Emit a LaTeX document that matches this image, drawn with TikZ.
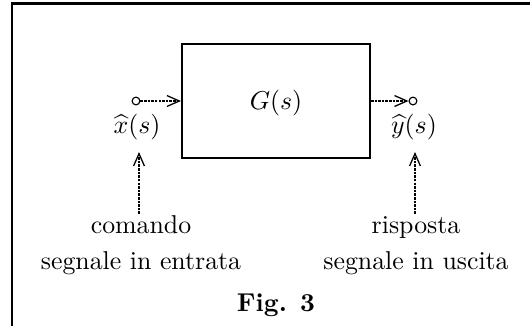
\documentclass[tikz,border=0pt]{standalone}
\usetikzlibrary{arrows.meta}
\begin{document}
\begin{tikzpicture}[x=0.3874pt,y=-0.3874pt,
  frameline/.style={line width=0.8pt},
  blockbox/.style={draw,line width=0.8pt,minimum width=188*0.3874pt,minimum height=114*0.3874pt,inner sep=0pt},
  port/.style={draw,circle,line width=0.45pt,inner sep=0pt,minimum size=3pt},
  sig/.style={dash pattern=on 1pt off 0.4pt,line width=0.5pt,-{Straight Barb[length=4.8pt,width=4.2pt,line width=0.5pt]}},
  lbl/.style={anchor=base,inner sep=0pt}]
\useasboundingbox (0,0) rectangle (530,325);
% frame
\draw[frameline] (12,326) -- (12,3.5) -- (531,3.5);
% block
\node[blockbox] (G) at (276,101) {};
\node[lbl] (Gl) at (276,109) {$G(s)$};
% ports
\node[port] (in) at (136,101) {};
\node[port] (out) at (413,101) {};
\draw[sig] (in) -- (G.west);
\draw[sig] (G.east) -- (out);
% port labels
\node[lbl] (xl) at (137,133) {$\widehat{x}(s)$};
\node[lbl] (yl) at (414,133) {$\widehat{y}(s)$};
% descriptions
\node[lbl] (cmd) at (141,233) {comando};
\node[lbl] (cmd2) at (141,269) {segnale in entrata};
\node[lbl] (rsp) at (416,233) {risposta};
\node[lbl] (rsp2) at (416,269) {segnale in uscita};
\node[lbl] (fig) at (276,311) {\textbf{Fig. 3}};
% pointer arrows
\coordinate (xa) at (139,214);
\coordinate (xb) at (139,152);
\coordinate (ya) at (415,214);
\coordinate (yb) at (415,152);
\draw[sig] (xa) -- (xb);
\draw[sig] (ya) -- (yb);
\end{tikzpicture}
\end{document}
